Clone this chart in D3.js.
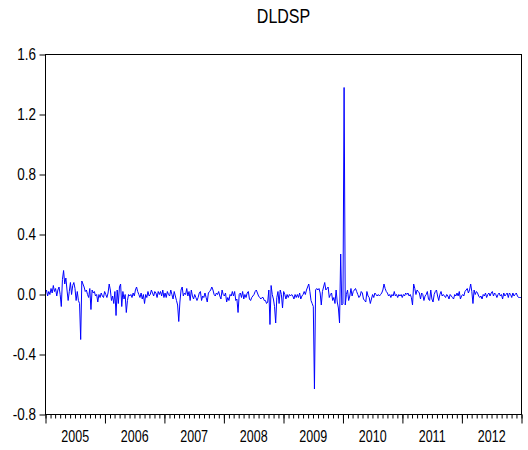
<!DOCTYPE html>
<html>
<head>
<meta charset="utf-8">
<script src="https://cdn.jsdelivr.net/npm/d3@7"></script>
<style>
  body { margin: 0; background: #fff; }
  svg { display: block; }
  text { font-family: Arial, "Liberation Sans", sans-serif; fill: #000; }
</style>
</head>
<body>
<svg id="chart" width="528" height="450"></svg>
<script>
// Weekly log-difference series, DLDSP
const chartTitle = "DLDSP";
const seriesStart = "2005-01-07";

const values2005 = [
  0.03, -0.01, 0.02, 0.00, 0.04, 0.01, 0.06, 0.02, 0.04, -0.01, 0.03, 0.05,
  0.00, -0.08, 0.10, 0.16, 0.07, 0.11, 0.03, -0.04, 0.02, 0.08, 0.00, 0.06,
  0.08, 0.04, -0.04, 0.02, -0.04, -0.06, -0.30, 0.09, 0.07, 0.05, 0.02, 0.03,
  0.00, -0.02, 0.04, -0.10, 0.03, 0.01, 0.02, -0.01, 0.00, -0.05, 0.00, -0.02,
  0.01, -0.01, -0.02, 0.02
];
const values2006 = [
  0.00, -0.02, 0.01, 0.07, 0.03, -0.04, -0.01, -0.06, 0.02, -0.14, 0.03, -0.06,
  0.05, 0.07, -0.08, 0.02, -0.03, 0.00, -0.12, -0.04, 0.00, -0.01, 0.00, -0.02,
  0.01, -0.01, 0.03, 0.05, 0.02, 0.00, -0.02, 0.01, -0.03, 0.00, -0.06, 0.00,
  -0.02, 0.02, -0.01, 0.00, 0.03, 0.01, -0.01, 0.02, 0.01, -0.02, 0.02, 0.00,
  0.02, -0.01, 0.03, -0.02
];
const values2007 = [
  0.01, -0.02, 0.02, 0.00, -0.01, 0.03, 0.00, -0.03, 0.02, -0.01, -0.04, -0.07,
  -0.18, -0.05, 0.03, 0.05, -0.01, 0.01, 0.00, 0.04, -0.01, 0.02, -0.04, 0.03,
  -0.01, -0.03, 0.00, -0.02, -0.04, -0.02, 0.01, 0.02, -0.04, -0.01, -0.02, 0.01,
  -0.02, -0.05, 0.01, 0.02, 0.03, 0.05, 0.03, 0.00, -0.01, 0.01, 0.00, 0.02,
  -0.01, -0.03, 0.03, 0.00
];
const values2008 = [
  -0.01, 0.01, -0.05, -0.02, -0.04, 0.00, -0.01, 0.02, -0.01, 0.02, -0.04, -0.03,
  -0.12, 0.00, 0.01, -0.02, 0.02, -0.03, 0.00, -0.02, 0.01, 0.02, -0.03, -0.04,
  -0.02, -0.01, 0.00, 0.02, 0.03, 0.01, -0.01, -0.02, -0.03, -0.02, -0.02, -0.04,
  -0.04, -0.06, -0.05, 0.03, -0.20, 0.06, 0.00, -0.03, -0.08, -0.19, -0.02, 0.02,
  -0.06, 0.03, 0.00, -0.09
];
const values2009 = [
  0.02, 0.00, -0.03, 0.00, -0.02, 0.00, -0.01, 0.00, -0.01, -0.03, 0.00, -0.02,
  0.00, -0.02, 0.01, -0.03, -0.01, 0.00, 0.02, 0.00, 0.03, 0.05, 0.07, 0.02,
  -0.04, -0.06, -0.08, -0.63, 0.03, 0.04, 0.03, 0.04, 0.01, -0.07, 0.02, 0.05,
  0.08, 0.03, 0.04, 0.05, -0.02, 0.00, 0.01, -0.04, -0.02, -0.06, 0.03, -0.05,
  -0.09, -0.19, 0.27, -0.07
];
const values2010 = [
  -0.06, 1.38, -0.07, 0.00, 0.03, -0.04, -0.01, 0.04, -0.01, 0.02, 0.03, 0.04,
  0.02, 0.00, -0.02, -0.01, 0.02, 0.01, -0.03, -0.04, -0.05, 0.02, -0.01, -0.02,
  -0.06, -0.03, 0.00, -0.02, 0.01, 0.00, -0.01, 0.00, -0.01, 0.00, 0.01, 0.03,
  0.07, 0.04, 0.02, 0.01, -0.01, 0.00, -0.02, 0.00, -0.01, 0.02, -0.01, 0.00,
  -0.02, 0.00, -0.01, 0.00
];
const values2011 = [
  -0.02, 0.00, -0.01, 0.01, 0.00, 0.01, -0.01, 0.00, -0.02, -0.07, 0.07, 0.04,
  0.00, 0.03, 0.02, 0.01, -0.03, 0.01, 0.00, -0.04, -0.01, 0.00, 0.02, -0.03,
  -0.04, 0.03, -0.03, -0.05, 0.00, 0.02, 0.03, -0.01, -0.04, 0.00, 0.02, -0.01,
  0.00, -0.01, -0.02, 0.00, -0.01, -0.03, 0.00, -0.01, -0.02, -0.03, 0.00, -0.01,
  0.01, -0.01, 0.02, -0.03
];
const values2012 = [
  -0.01, 0.00, -0.01, 0.02, 0.03, 0.04, 0.01, 0.03, 0.07, 0.02, -0.06, 0.03,
  0.00, 0.02, 0.01, -0.01, -0.02, -0.01, -0.03, 0.00, -0.01, 0.01, -0.02, 0.00,
  0.01, -0.01, 0.01, 0.02, -0.01, 0.01, 0.00, -0.02, 0.00, 0.01, -0.01, 0.00,
  -0.03, 0.01, -0.01, 0.00, 0.01, -0.02, 0.01, 0.00, -0.02, 0.01, -0.01, 0.00,
  0.01, -0.01, -0.02, -0.02, -0.02
];

const yTickValues = [-0.8, -0.4, 0.0, 0.4, 0.8, 1.2, 1.6];
const yearLabels = ["2005", "2006", "2007", "2008", "2009", "2010", "2011", "2012"];

const values = [].concat(values2005, values2006, values2007, values2008,
                         values2009, values2010, values2011, values2012);
const start = d3.utcParse("%Y-%m-%d")(seriesStart);
const dates = values.map((_, i) => d3.utcDay.offset(start, 7 * i));

const plot = { left: 45.5, right: 521.5, top: 54.5, bottom: 414.5 };
const x = d3.scaleUtc()
  .domain([new Date(Date.UTC(+yearLabels[0], 0, 1)),
           new Date(Date.UTC(+yearLabels[yearLabels.length - 1] + 1, 0, 1))])
  .range([plot.left, plot.right]);
const y = d3.scaleLinear().domain([-0.8, 1.6]).range([plot.bottom, plot.top]);

const svg = d3.select("#chart");

// text helper: glyphs are drawn slightly tall
function label(g, txt, px, py, size, anchor, stretch) {
  return g.append("text")
    .attr("transform", `translate(${px},${py}) scale(1,${stretch})`)
    .attr("text-anchor", anchor)
    .style("font-size", size + "px")
    .text(txt);
}

// title
label(svg, chartTitle, (plot.left + plot.right) / 2, 22.7, 16, "middle", 1.25);

// clip for the series
svg.append("defs").append("clipPath").attr("id", "plotClip")
  .append("rect")
  .attr("x", plot.left).attr("y", plot.top)
  .attr("width", plot.right - plot.left).attr("height", plot.bottom - plot.top);

// series line
const line = d3.line()
  .x((d, i) => x(dates[i]))
  .y(d => y(d));

svg.append("path")
  .datum(values)
  .attr("clip-path", "url(#plotClip)")
  .attr("fill", "none")
  .attr("stroke", "#0000ff")
  .attr("stroke-width", 1)
  .attr("stroke-linejoin", "round")
  .attr("d", line);

// y axis ticks
const yAxis = svg.append("g")
  .attr("transform", `translate(${plot.left},0)`)
  .call(d3.axisLeft(y).tickValues(yTickValues).tickSize(6).tickFormat(""))
  .call(g => g.select(".domain").remove());
yAxis.selectAll("line").attr("stroke", "#000");

const fmt = d => d.toFixed(1);
yTickValues.forEach(v => {
  label(svg, fmt(v), 36, y(v) + 5.5, 13.5, "end", 1.2);
});

// x axis: monthly minor ticks, yearly major ticks
const months = d3.utcMonth.range(x.domain()[0], d3.utcDay.offset(x.domain()[1], 1));
const years = d3.utcYear.range(x.domain()[0], d3.utcDay.offset(x.domain()[1], 1));

svg.append("g")
  .attr("transform", `translate(0,${plot.bottom})`)
  .call(d3.axisBottom(x).tickValues(months).tickSize(4).tickFormat(""))
  .call(g => g.select(".domain").remove())
  .selectAll("line").attr("stroke", "#000");

svg.append("g")
  .attr("transform", `translate(0,${plot.bottom})`)
  .call(d3.axisBottom(x).tickValues(years).tickSize(9).tickFormat(""))
  .call(g => g.select(".domain").remove())
  .selectAll("line").attr("stroke", "#000");

yearLabels.forEach(yr => {
  const a = x(new Date(Date.UTC(+yr, 0, 1)));
  const b = x(new Date(Date.UTC(+yr + 1, 0, 1)));
  label(svg, yr, (a + b) / 2, 441.5, 12.5, "middle", 1.3);
});

// plot frame
svg.append("rect")
  .attr("x", plot.left).attr("y", plot.top)
  .attr("width", plot.right - plot.left).attr("height", plot.bottom - plot.top)
  .attr("fill", "none")
  .attr("stroke", "#000")
  .attr("stroke-width", 1);
</script>
</body>
</html>
